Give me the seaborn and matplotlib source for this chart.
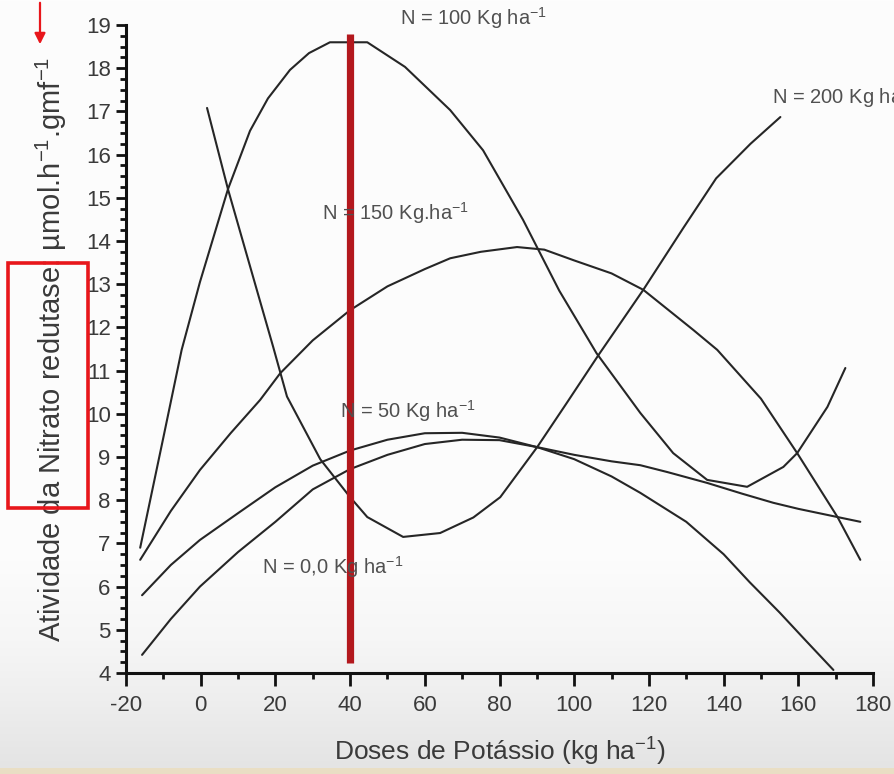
import numpy as np
import pandas as pd
import matplotlib
matplotlib.use("Agg")
import matplotlib.pyplot as plt
from matplotlib import font_manager
from matplotlib.patches import Rectangle, FancyArrowPatch
from matplotlib.ticker import MultipleLocator
import seaborn as sns

# ---------------- data ----------------
x_n100 = [-16.2, -10.0, -5.1, -0.2, 7.3, 13.2, 18.0, 23.9, 29.0, 34.6, 44.6, 54.7, 66.8, 75.6, 86.3,
          96.0, 106.0, 117.7, 126.5, 135.6, 146.3, 156.0, 159.7, 167.8, 172.6]
y_n100 = [6.9, 9.45, 11.48, 13.05, 15.2, 16.55, 17.3, 17.96, 18.35, 18.6, 18.6, 18.03, 17.03, 16.1, 14.49,
          12.85, 11.4, 10.02, 9.09, 8.47, 8.31, 8.77, 9.09, 10.16, 11.06]

x_n150 = [-16.2, -8.0, -0.2, 8.0, 15.9, 21.3, 30.0, 40.0, 50.0, 60.0, 66.8, 75.0, 84.7, 92.0, 100.0,
          110.0, 118.5, 131.9, 138.3, 150.0, 159.7, 170.5, 176.6]
y_n150 = [6.62, 7.75, 8.7, 9.55, 10.32, 10.94, 11.7, 12.4, 12.95, 13.35, 13.6, 13.75, 13.86, 13.8, 13.55,
          13.25, 12.87, 11.94, 11.48, 10.35, 9.09, 7.61, 6.62]

x_n200 = [1.7, 7.3, 12.0, 19.4, 23.1, 32.0, 40.0, 44.6, 54.2, 64.1, 73.0, 80.2, 90.1, 98.0, 106.5,
          118.5, 129.2, 138.0, 147.2, 155.2]
y_n200 = [17.08, 15.2, 13.78, 11.55, 10.4, 8.95, 8.07, 7.61, 7.15, 7.24, 7.6, 8.07, 9.23, 10.25, 11.36,
          12.87, 14.3, 15.45, 16.25, 16.87]

x_n50 = [-15.7, -8.0, -0.2, 10.0, 20.0, 30.0, 40.0, 50.0, 60.0, 70.0, 80.0, 90.0, 100.0, 110.0, 117.7,
         130.0, 140.0, 147.0, 155.0, 162.0, 169.4]
y_n50 = [5.8, 6.5, 7.08, 7.7, 8.3, 8.8, 9.15, 9.4, 9.55, 9.56, 9.45, 9.23, 8.95, 8.55, 8.17,
         7.5, 6.75, 6.1, 5.4, 4.75, 4.07]

x_n0 = [-15.7, -8.0, -0.2, 10.0, 20.0, 30.0, 40.0, 50.0, 60.0, 70.0, 80.0, 90.0, 100.0, 110.0, 117.7,
        125.0, 135.6, 145.0, 153.3, 160.0, 170.5, 176.6]
y_n0 = [4.42, 5.25, 6.0, 6.8, 7.5, 8.25, 8.72, 9.05, 9.3, 9.4, 9.39, 9.23, 9.05, 8.9, 8.81,
        8.65, 8.4, 8.15, 7.94, 7.8, 7.61, 7.5]

curve_labels = ["N = 100 Kg ha$^{-1}$", "N = 150 Kg.ha$^{-1}$", "N = 200 Kg ha$^{-1}$",
                "N = 50 Kg ha$^{-1}$", "N = 0,0 Kg ha$^{-1}$"]
label_x = [53.4, 32.5, 153.0, 37.3, 16.4]
label_y = [19.16, 14.65, 17.33, 10.06, 6.45]

marker_x = 40
marker_y = [4.23, 18.8]

x_ticks = list(range(-20, 181, 20))
y_ticks = list(range(4, 20))
x_label = "Doses de Potássio (kg ha$^{-1}$)"
y_label = "Atividade da Nitrato redutase: µmol.h$^{-1}$.gmf$^{-1}$"

# ---------------- fonts ----------------
sns.set_theme(style="ticks")
avail = {f.name for f in font_manager.fontManager.ttflist}
base_font = "Liberation Sans" if "Liberation Sans" in avail else "DejaVu Sans"
plt.rcParams["font.family"] = [base_font, "DejaVu Sans"]
plt.rcParams["mathtext.fontset"] = "custom"
plt.rcParams["mathtext.rm"] = base_font
plt.rcParams["mathtext.it"] = base_font
plt.rcParams["mathtext.bf"] = base_font
plt.rcParams["mathtext.default"] = "regular"
plt.rcParams["axes.unicode_minus"] = False

# ---------------- figure ----------------
W, H = 894, 774
fig = plt.figure(figsize=(W / 100, H / 100), dpi=100)
fig.patch.set_facecolor("white")

# background: photo-like gradient
bg = fig.add_axes([0, 0, 1, 1], zorder=-10)
rows = np.arange(H)
g = np.interp(rows, [0, 560, 640, 700, 767], [253, 252, 246, 238, 228])
img = np.stack([g, g, g], axis=1)[:, None, :].repeat(2, axis=1) / 255.0
img[768:, :, :] = np.array([233, 222, 196]) / 255.0
bg.imshow(img, aspect="auto", extent=[0, 1, 0, 1], origin="upper")
bg.axis("off")

ax = fig.add_axes([126 / W, 1 - 673 / H, (873 - 126) / W, (673 - 25) / H])
ax.set_facecolor("none")

frames = []
for name, xs, ys in [("n100", x_n100, y_n100), ("n150", x_n150, y_n150),
                     ("n200", x_n200, y_n200), ("n50", x_n50, y_n50), ("n0", x_n0, y_n0)]:
    frames.append(pd.DataFrame({"dose": xs, "atividade": ys, "serie": name}))
df = pd.concat(frames, ignore_index=True)

sns.lineplot(data=df, x="dose", y="atividade", units="serie", estimator=None, sort=False,
             color="#262626", linewidth=1.5, ax=ax, legend=False, zorder=3)

ax.plot([marker_x, marker_x], marker_y, color="#b3181d", linewidth=5.2,
        solid_capstyle="butt", zorder=4)

for txt, tx, ty in zip(curve_labels, label_x, label_y):
    ax.text(tx, ty, txt, fontsize=14.5, color="#505050", ha="left", va="center",
            zorder=5, clip_on=False)

ax.set_xlim(-20, 180)
ax.set_ylim(4, 19)
ax.set_xticks(x_ticks)
ax.set_yticks(y_ticks)
ax.xaxis.set_minor_locator(MultipleLocator(10))
ax.yaxis.set_minor_locator(MultipleLocator(0.25))

sns.despine(ax=ax)
for s in ["left", "bottom"]:
    ax.spines[s].set_linewidth(2.2)
    ax.spines[s].set_color("#111111")

ax.tick_params(axis="both", which="major", direction="out", width=2.0, color="#111111",
               labelsize=16, labelcolor="#3a3a3a")
ax.tick_params(axis="x", which="major", length=9, pad=7)
ax.tick_params(axis="y", which="major", length=7, pad=4)
ax.tick_params(axis="both", which="minor", direction="out", width=2.0, length=4, color="#111111")

ax.set_xlabel(x_label, fontsize=19, color="#3a3a3a", labelpad=14)
ax.set_ylabel(y_label, fontsize=21, color="#3a3a3a", labelpad=12)

# red annotations (arrow and box)
fig.patches.append(Rectangle((8 / W, 1 - 508 / H), 80 / W, 245 / H, transform=fig.transFigure,
                             fill=False, edgecolor="#e8161b", linewidth=2.6, zorder=20))
fig.patches.append(FancyArrowPatch((40 / W, 1.0), (40 / W, 1 - 47 / H), transform=fig.transFigure,
                                   arrowstyle="-|>", mutation_scale=16, color="#e8161b",
                                   linewidth=1.6, zorder=20))

fig.savefig("out.png", dpi=100)
